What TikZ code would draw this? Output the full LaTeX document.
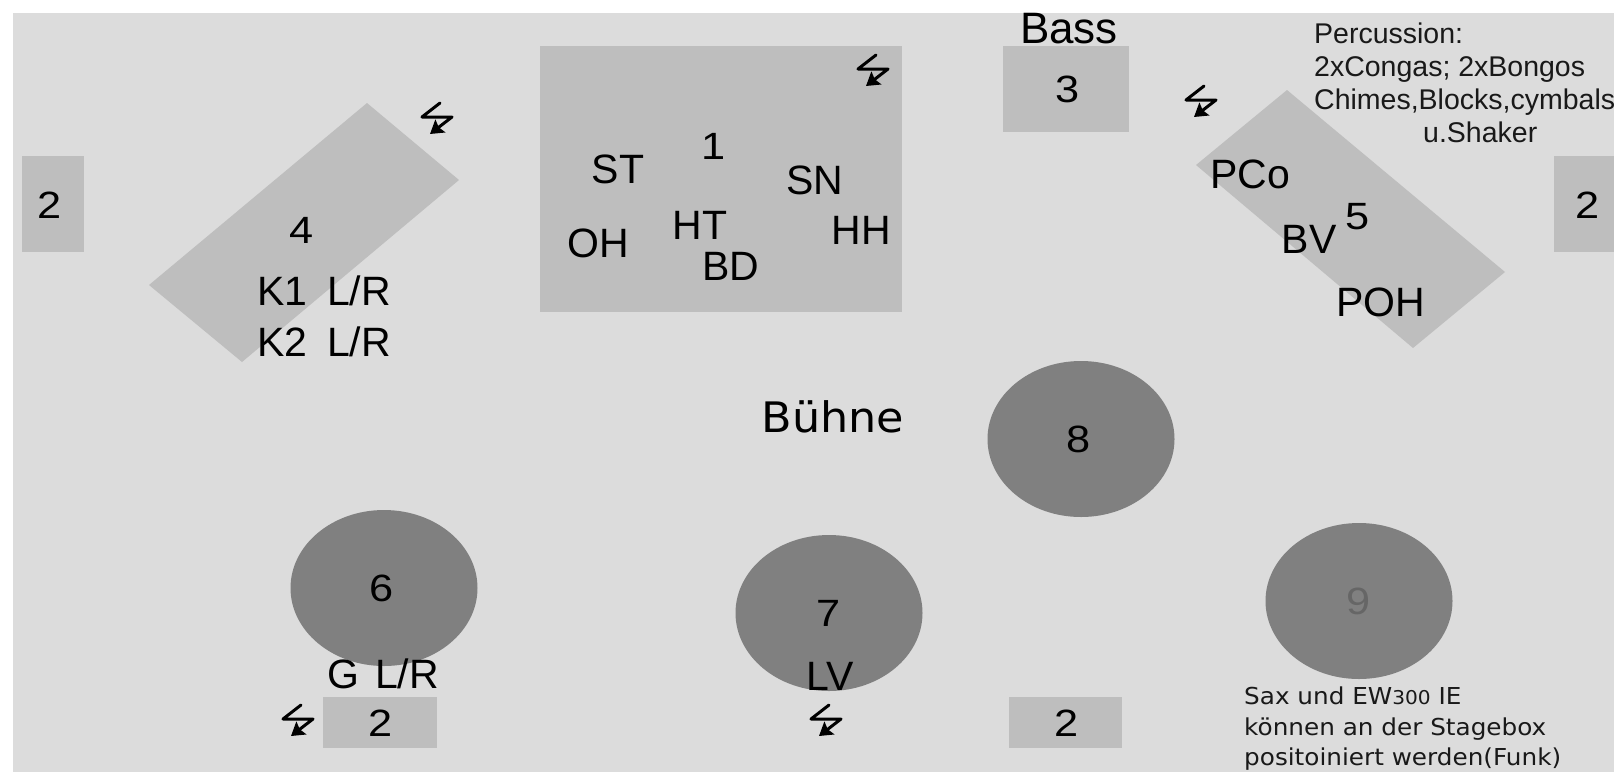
\documentclass[tikz,border=0pt]{standalone}
\usepackage{fontspec}
\setmainfont{Liberation Sans}
\newfontfamily\luc[FakeStretch=1.06]{DejaVu Sans}
\newfontfamily\wide[FakeStretch=1.14]{Liberation Sans}
\usetikzlibrary{arrows.meta}
\definecolor{bg}{gray}{0.863}
\definecolor{box}{gray}{0.745}
\definecolor{disc}{gray}{0.5}
\tikzset{
  x=1pt,y=-1pt,
  lab/.style={inner sep=0pt,text=black,font=\fontsize{41}{41}\selectfont},
  big/.style={inner sep=0pt,text=black,font=\fontsize{44}{44}\selectfont},
  num/.style={inner sep=0pt,text=black,font=\wide\fontsize{38}{38}\selectfont},
  small/.style={inner sep=0pt,text=black!90,align=left,anchor=north west,font=\fontsize{28.5}{33}\selectfont},
  note/.style={inner sep=0pt,text=black!90,align=left,anchor=north west,font=\luc\fontsize{23.3}{30.5}\selectfont},
  boxf/.style={fill=box,draw=none},
  discf/.style={fill=disc,draw=none},
  bolt/.pic={\draw[line width=3pt,line join=round,line cap=round,-{Stealth[length=13pt,width=16pt,inset=2pt]}]
     (3,-15) -- (-15,-1) -- (15,-1) -- (-7,16);}
}
\begin{document}
\begin{tikzpicture}
\useasboundingbox (0,0) rectangle (1614,772);
\fill[white] (0,0) rectangle (1614,772);
\fill[bg] (13,13) rectangle (1614,772);
\fill[boxf] (540,46) rectangle (902,312);
\fill[boxf] (1003,46) rectangle (1129,132);
\fill[boxf] (22,156) rectangle (84,252);
\fill[boxf] (1554,156) rectangle (1614,252);
\fill[boxf] (323,697) rectangle (437,748);
\fill[boxf] (1009,697) rectangle (1122,748);
\fill[boxf] (367,103) -- (459,180) -- (242,362) -- (149,285) -- cycle;
\fill[boxf] (1287,90) -- (1505,272) -- (1413,348) -- (1196,165) -- cycle;
\fill[discf] (1081,439) ellipse [x radius=93.5,y radius=78];
\fill[discf] (384,588) ellipse [x radius=93.5,y radius=78];
\fill[discf] (829,613) ellipse [x radius=93.5,y radius=78];
\fill[discf] (1359,601) ellipse [x radius=93.5,y radius=78];

\pic at (437,118) {bolt};
\pic at (873,70) {bolt};
\pic at (1201,101) {bolt};
\pic at (298,720) {bolt};
\pic at (826,720) {bolt};

\node[num] (n1) at (714,146) {1};
\node[num] (n2a) at (50,205) {2};
\node[num] (n2b) at (1588,205) {2};
\node[num] (n2c) at (381,723) {2};
\node[num] (n2d) at (1067,723) {2};
\node[num] (n3) at (1068,89) {3};
\node[num] (n4) at (302,230) {4};
\node[num] (n5) at (1358,217) {5};
\node[num] (n6) at (382,588) {6};
\node[num] (n7) at (829,613) {7};
\node[num] (n8) at (1079,439) {8};
\node[num,text=black!60] (n9) at (1359,601) {9};

\node[big] (bass) at (1069,29) {Bass};
\node[lab] (st) at (618,169) {ST};
\node[lab] (oh) at (598,243) {OH};
\node[lab] (ht) at (700,225) {HT};
\node[lab] (bd) at (731,266) {BD};
\node[lab] (sn) at (815,180) {SN};
\node[lab] (hh) at (861,230) {HH};
\node[lab] (k1) at (324,291) {K1\hspace{20pt}L/R};
\node[lab] (k2) at (324,342) {K2\hspace{20pt}L/R};
\node[lab] (pco) at (1250,174) {PCo};
\node[lab] (bv) at (1309,239) {BV};
\node[lab] (poh) at (1381,302) {POH};
\node[lab] (glr) at (383,674) {G\hspace{16pt}L/R};
\node[lab] (lv) at (830,676) {LV};
\node[inner sep=0pt,text=black,font=\luc\fontsize{42}{42}\selectfont] (buehne) at (833,417) {Bühne};
\node[small] (perc) at (1314,23) {Percussion:\\2xCongas; 2xBongos\\Chimes,Blocks,cymbals\\\hspace{109pt}u.Shaker};
\node[note] (sax) at (1244,687) {Sax und EW{\fontsize{19}{19}\selectfont 300} IE\\können an der Stagebox\\positoiniert werden(Funk)};
\end{tikzpicture}
\end{document}
